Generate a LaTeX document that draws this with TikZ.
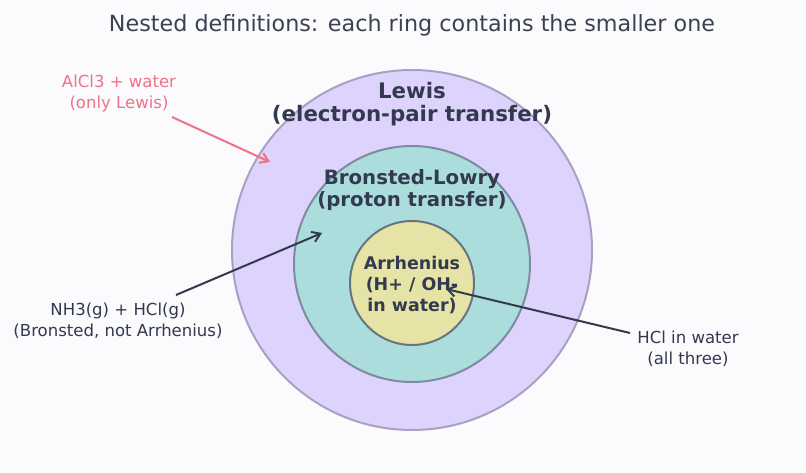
\documentclass[tikz,border=0pt]{standalone}
\usepackage{fontspec}
\setmainfont{DejaVu Sans}
\usetikzlibrary{arrows.meta}
\definecolor{bg}{HTML}{FBFBFE}
\definecolor{ink}{HTML}{333A4F}
\definecolor{titleink}{HTML}{3A4150}
\definecolor{pinkink}{HTML}{F07286}
\definecolor{lewisfill}{HTML}{DDD3FC}
\definecolor{lewisline}{HTML}{A8A2C2}
\definecolor{bronfill}{HTML}{ABDDDC}
\definecolor{bronline}{HTML}{7F8BA0}
\definecolor{arrfill}{HTML}{E5E4A6}
\definecolor{arrline}{HTML}{687480}
\tikzset{
  ring/.style={circle, draw, line width=1.5pt, inner sep=0pt},
  ringlabel/.style={text=ink, align=center, inner sep=0pt},
  note/.style={font=\fontsize{12.4}{15.75}\selectfont, align=center, inner sep=0pt},
  pointer/.style={line width=1.5pt, -{Straight Barb[length=6pt,width=8pt]}},
}
\begin{document}
\begin{tikzpicture}[x=0.75pt,y=-0.75pt]
\path[fill=bg] (0,0) rectangle (806,473);
\useasboundingbox (0,0) rectangle (806,473);
\node[font=\fontsize{16.7}{20}\selectfont, text=titleink, inner sep=0pt] (title) at (412,25) {Nested definitions: each ring contains the smaller one};
\node[ring, fill=lewisfill, draw=lewisline, minimum size=270pt] (lewis) at (412,250) {};
\node[ring, fill=bronfill, draw=bronline, minimum size=177pt] (bron) at (412,264) {};
\node[ring, fill=arrfill, draw=arrline, minimum size=93pt] (arr) at (412,283) {};
\node[ringlabel, font=\fontsize{16}{17.25}\selectfont\bfseries] (lewislab) at (412,104.5) {Lewis\\(electron-pair transfer)};
\node[ringlabel, font=\fontsize{14.8}{16.5}\selectfont\bfseries] (bronlab) at (412,190) {Bronsted-Lowry\\(proton transfer)};
\node[ringlabel, font=\fontsize{13.1}{15.75}\selectfont\bfseries] (arrlab) at (412,285) {Arrhenius\\(H+ / OH-\\in water)};
\node[note, text=pinkink] (alcl) at (119,93) {AlCl3 + water\\(only Lewis)};
\node[note, text=ink] (nh3) at (118,321) {NH3(g) + HCl(g)\\(Bronsted, not Arrhenius)};
\node[note, text=ink] (hcl) at (688,349) {HCl in water\\(all three)};
\coordinate (alclS) at (172,117);
\coordinate (alclE) at (270,162);
\coordinate (nh3S) at (176,295);
\coordinate (nh3E) at (322,233);
\coordinate (hclS) at (630,333);
\coordinate (hclE) at (446,289);
\draw[pointer, draw=pinkink] (alclS) -- (alclE);
\draw[pointer, draw=ink] (nh3S) -- (nh3E);
\draw[pointer, draw=ink] (hclS) -- (hclE);
\end{tikzpicture}
\end{document}
